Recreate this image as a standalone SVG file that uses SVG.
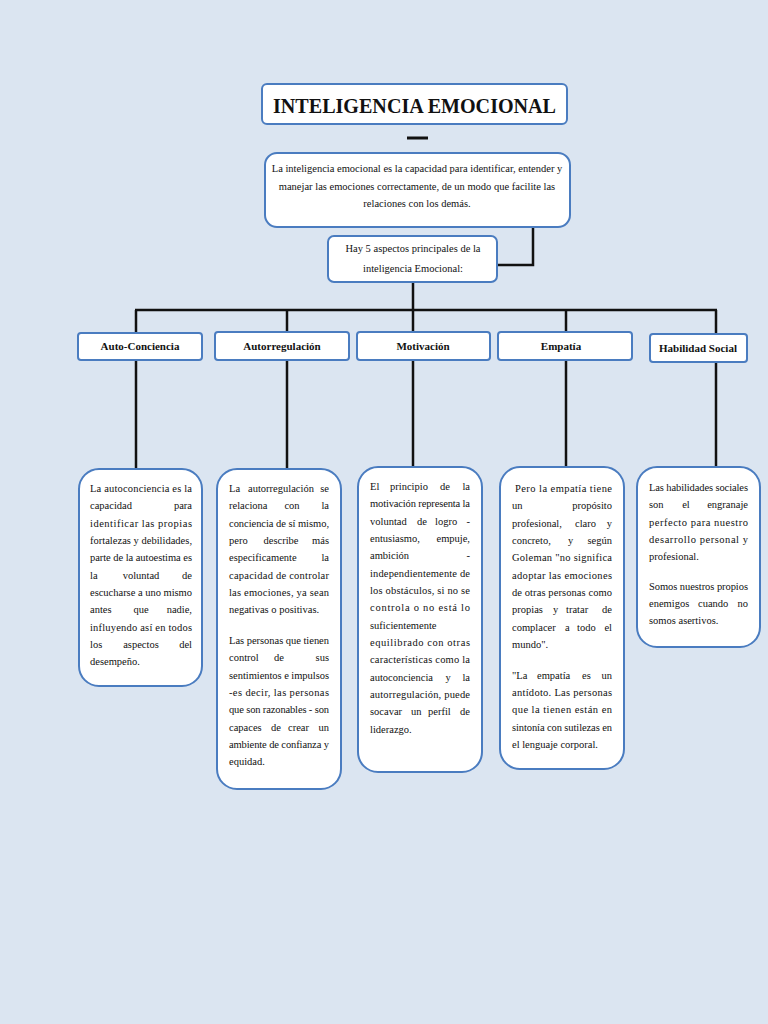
<svg xmlns="http://www.w3.org/2000/svg" width="768" height="1024" viewBox="0 0 768 1024">
<style>
.b{fill:#fff;stroke:#4a7cc0;stroke-width:2}
text{font-family:"Liberation Serif","Times New Roman",serif;fill:#111;font-size:10.5px}
.c{text-anchor:middle}
.m{text-anchor:middle}
.e{text-anchor:end}
.h{font-weight:bold;font-size:11px;text-anchor:middle}
.k{stroke:#111;stroke-width:2.5;fill:none}
</style>
<rect width="768" height="1024" fill="#dbe5f1"/>
<g id="connectors" class="k">
<line x1="407" y1="138" x2="428" y2="138" stroke-width="3"/>
<polyline points="533,227 533,265 497,265"/>
<line x1="413" y1="282" x2="413" y2="333"/>
<line x1="135" y1="310" x2="717" y2="310"/>
<line x1="136" y1="310" x2="136" y2="333"/>
<line x1="287" y1="310" x2="287" y2="332"/>
<line x1="566" y1="310" x2="566" y2="332"/>
<line x1="716" y1="310" x2="716" y2="334"/>
<line x1="136" y1="360" x2="136" y2="469"/>
<line x1="287" y1="360" x2="287" y2="469"/>
<line x1="413" y1="360" x2="413" y2="467"/>
<line x1="566" y1="360" x2="566" y2="467"/>
<line x1="716" y1="362" x2="716" y2="467"/>
</g>
<g id="title"><rect class="b" x="262" y="84" width="305" height="40" rx="5"/><text x="273" y="113" textLength="283" lengthAdjust="spacingAndGlyphs" style="font-size:21px;font-weight:bold">INTELIGENCIA EMOCIONAL</text></g>
<g id="def"><rect class="b" x="265" y="153" width="305" height="74" rx="12"/>
<text class="c" x="417" y="172">La inteligencia emocional es la capacidad para identificar, entender y</text>
<text class="c" x="417" y="190">manejar las emociones correctamente, de un modo que facilite las</text>
<text class="c" x="417" y="207">relaciones con los demás.</text></g>
<g id="hay"><rect class="b" x="328" y="236" width="169" height="46" rx="6"/>
<text class="c" x="413" y="252">Hay 5 aspectos principales de la</text>
<text class="c" x="413" y="272">inteligencia Emocional:</text></g>
<g id="cat1"><rect class="b" x="78" y="333" width="124" height="27" rx="3"/><text class="h" x="140" y="350">Auto-Conciencia</text></g>
<g id="cat2"><rect class="b" x="215" y="332" width="134" height="28" rx="3"/><text class="h" x="282" y="350">Autorregulación</text></g>
<g id="cat3"><rect class="b" x="357" y="332" width="133" height="28" rx="3"/><text class="h" x="423" y="350">Motivación</text></g>
<g id="cat4"><rect class="b" x="498" y="332" width="134" height="28" rx="3"/><text class="h" x="561" y="350">Empatía</text></g>
<g id="cat5"><rect class="b" x="650" y="334" width="97" height="28" rx="3"/><text class="h" x="698" y="352">Habilidad Social</text></g>
<g id="d1"><rect class="b" x="79" y="469" width="123" height="217" rx="20"/>
<text x="90" y="492" textLength="102">La autoconciencia es la</text>
<text x="90" y="509">capacidad</text><text class="e" x="192" y="509">para</text>
<text x="90" y="527" textLength="102">identificar las propias</text>
<text x="90" y="544" textLength="102">fortalezas y debilidades,</text>
<text x="90" y="561" textLength="102">parte de la autoestima es</text>
<text x="90" y="579">la</text><text class="m" x="141" y="579">voluntad</text><text class="e" x="192" y="579">de</text>
<text x="90" y="596" textLength="102">escucharse a uno mismo</text>
<text x="90" y="613">antes</text><text class="m" x="141" y="613">que</text><text class="e" x="192" y="613">nadie,</text>
<text x="90" y="631" textLength="102">influyendo así en todos</text>
<text x="90" y="648">los</text><text class="m" x="141" y="648">aspectos</text><text class="e" x="192" y="648">del</text>
<text x="90" y="665">desempeño.</text></g>
<g id="d2"><rect class="b" x="217" y="469" width="124" height="320" rx="20"/>
<text x="229" y="492">La</text><text class="m" x="281" y="492">autorregulación</text><text class="e" x="329" y="492">se</text>
<text x="229" y="509">relaciona</text><text class="m" x="292" y="509">con</text><text class="e" x="329" y="509">la</text>
<text x="229" y="527" textLength="100">conciencia de sí mismo,</text>
<text x="229" y="544">pero</text><text class="m" x="281" y="544">describe</text><text class="e" x="329" y="544">más</text>
<text x="229" y="561">especificamente</text><text class="e" x="329" y="561">la</text>
<text x="229" y="579" textLength="100">capacidad de controlar</text>
<text x="229" y="596" textLength="100">las emociones, ya sean</text>
<text x="229" y="613">negativas o positivas.</text>
<text x="229" y="644" textLength="100">Las personas que tienen</text>
<text x="229" y="661">control</text><text class="m" x="279" y="661">de</text><text class="e" x="329" y="661">sus</text>
<text x="229" y="679" textLength="100">sentimientos e impulsos</text>
<text x="229" y="696" textLength="100">-es decir, las personas</text>
<text x="229" y="713" textLength="100">que son razonables - son</text>
<text x="229" y="731">capaces</text><text x="271" y="731">de</text><text x="288" y="731">crear</text><text class="e" x="329" y="731">un</text>
<text x="229" y="748" textLength="100">ambiente de confianza y</text>
<text x="229" y="765">equidad.</text></g>
<g id="d3"><rect class="b" x="358" y="467" width="124" height="305" rx="20"/>
<text x="370" y="490">El</text><text x="390" y="490">principio</text><text x="440" y="490">de</text><text class="e" x="470" y="490">la</text>
<text x="370" y="507" textLength="100">motivación representa la</text>
<text x="370" y="525">voluntad</text><text x="417" y="525">de</text><text x="435" y="525">logro</text><text class="e" x="470" y="525">-</text>
<text x="370" y="542">entusiasmo,</text><text class="e" x="470" y="542">empuje,</text>
<text x="370" y="559">ambición</text><text class="e" x="470" y="559">-</text>
<text x="370" y="577" textLength="100">independientemente de</text>
<text x="370" y="594" textLength="100">los obstáculos, si no se</text>
<text x="370" y="611" textLength="100">controla o no está lo</text>
<text x="370" y="629">suficientemente</text>
<text x="370" y="646" textLength="100">equilibrado con otras</text>
<text x="370" y="663" textLength="100">características como la</text>
<text x="370" y="681">autoconciencia</text><text class="m" x="448" y="681">y</text><text class="e" x="470" y="681">la</text>
<text x="370" y="698" textLength="100">autorregulación, puede</text>
<text x="370" y="715">socavar</text><text x="411" y="715">un</text><text x="428" y="715">perfil</text><text class="e" x="470" y="715">de</text>
<text x="370" y="733">liderazgo.</text></g>
<g id="d4"><rect class="b" x="500" y="467" width="124" height="302" rx="20"/>
<text x="515" y="492" textLength="97">Pero la empatía tiene</text>
<text x="512" y="509">un</text><text class="e" x="612" y="509">propósito</text>
<text x="512" y="527">profesional,</text><text x="575" y="527">claro</text><text class="e" x="612" y="527">y</text>
<text x="512" y="544">concreto,</text><text x="568" y="544">y</text><text class="e" x="612" y="544">según</text>
<text x="512" y="561" textLength="100">Goleman "no significa</text>
<text x="512" y="579" textLength="100">adoptar las emociones</text>
<text x="512" y="596" textLength="100">de otras personas como</text>
<text x="512" y="613">propias</text><text x="553" y="613">y</text><text x="566" y="613">tratar</text><text class="e" x="612" y="613">de</text>
<text x="512" y="631">complacer</text><text x="565" y="631">a</text><text x="577" y="631">todo</text><text class="e" x="612" y="631">el</text>
<text x="512" y="648">mundo".</text>
<text x="512" y="679">"La</text><text x="537" y="679">empatía</text><text x="582" y="679">es</text><text class="e" x="612" y="679">un</text>
<text x="512" y="696" textLength="100">antídoto. Las personas</text>
<text x="512" y="713" textLength="100">que la tienen están en</text>
<text x="512" y="731" textLength="100">sintonía con sutilezas en</text>
<text x="512" y="748">el lenguaje corporal.</text></g>
<g id="d5"><rect class="b" x="637" y="467" width="123" height="180" rx="20"/>
<text x="649" y="491" textLength="99">Las habilidades sociales</text>
<text x="649" y="508">son</text><text class="m" x="686" y="508">el</text><text class="e" x="748" y="508">engranaje</text>
<text x="649" y="526" textLength="99">perfecto para nuestro</text>
<text x="649" y="543" textLength="99">desarrollo personal y</text>
<text x="649" y="560">profesional.</text>
<text x="649" y="590" textLength="99">Somos nuestros propios</text>
<text x="649" y="607">enemigos</text><text x="698" y="607">cuando</text><text class="e" x="748" y="607">no</text>
<text x="649" y="624">somos asertivos.</text></g>
</svg>
